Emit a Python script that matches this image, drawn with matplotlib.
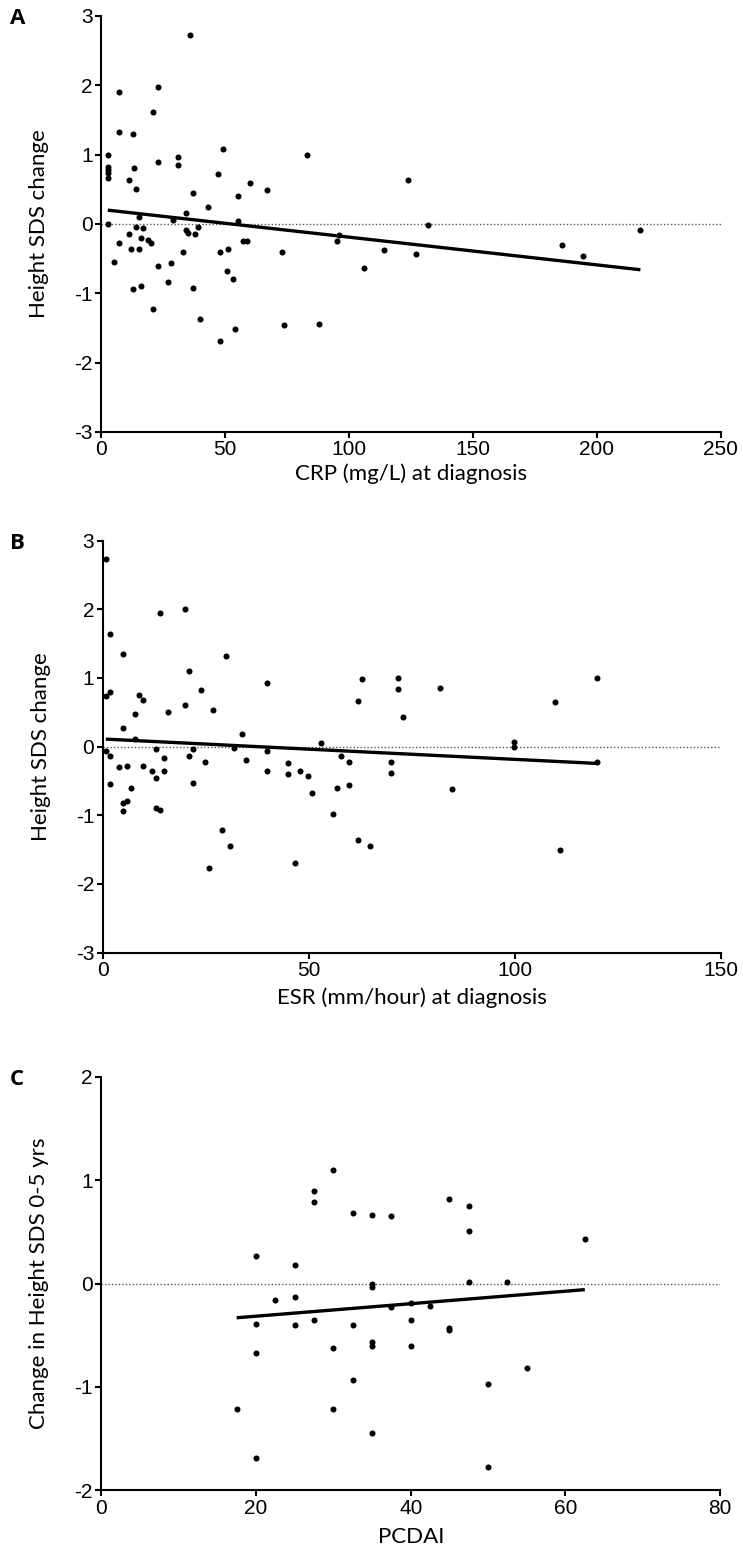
import numpy as np
import matplotlib
matplotlib.use("Agg")
import matplotlib.pyplot as plt

plt.rcParams['font.family'] = ['Liberation Sans', 'DejaVu Sans']
plt.rcParams['axes.unicode_minus'] = False
LABEL_FONT = ['Lato', 'DejaVu Sans']

# ---- Panel A: CRP at diagnosis vs height SDS change ----
crp_x = [35.9, 7.3, 23.1, 21.1, 7.3, 13.0, 2.7, 2.7, 2.7, 2.7, 2.7, 49.1, 31.0, 31.0,
         23.1, 13.2, 11.2, 47.0, 60.1, 66.9, 14.1, 37.0, 55.1, 43.0, 34.1, 15.2, 29.0,
         55.1, 2.7, 14.1, 17.1, 34.1, 35.2, 39.0, 38.0, 11.2, 16.1, 19.1, 20.2, 7.1,
         57.1, 58.7, 12.1, 15.2, 33.2, 48.0, 51.1, 73.0, 5.1, 23.1, 28.1, 50.9, 53.1,
         27.2, 13.0, 16.1, 37.1, 21.1, 40.0, 54.0, 48.1, 73.9, 82.9, 123.8, 131.9,
         217.6, 95.0, 96.1, 114.0, 126.9, 105.9, 185.8, 194.6, 87.9]
crp_y = [2.72, 1.91, 1.98, 1.61, 1.33, 1.30, 0.99, 0.82, 0.78, 0.73, 0.67, 1.08, 0.96, 0.85,
         0.90, 0.80, 0.64, 0.72, 0.59, 0.49, 0.51, 0.45, 0.41, 0.25, 0.16, 0.10, 0.06,
         0.04, 0.00, -0.04, -0.06, -0.09, -0.13, -0.05, -0.14, -0.14, -0.20, -0.23, -0.28,
         -0.28, -0.24, -0.25, -0.36, -0.36, -0.41, -0.41, -0.36, -0.40, -0.55, -0.61,
         -0.57, -0.68, -0.80, -0.83, -0.94, -0.90, -0.93, -1.22, -1.37, -1.52, -1.69,
         -1.45, 0.99, 0.63, -0.01, -0.08, -0.25, -0.16, -0.375, -0.44, -0.63, -0.30,
         -0.46, -1.44]
crp_fit = (0.21, -0.0040)   # intercept, slope

# ---- Panel B: ESR at diagnosis vs height SDS change ----
esr_x = [0.8, 1.9, 4.9, 13.9, 19.9, 29.9, 20.9, 39.9, 0.8, 1.9, 8.9, 9.9, 23.9, 7.9, 15.9,
         19.9, 26.9, 4.9, 33.9, 7.9, 0.8, 1.9, 12.9, 21.9, 31.9, 39.9, 14.9, 20.9, 24.9,
         34.9, 44.9, 3.9, 5.9, 9.9, 1.9, 11.9, 12.9, 14.9, 6.9, 4.9, 5.9, 4.9, 12.9, 13.9,
         21.9, 39.9, 44.9, 47.9, 49.8, 28.9, 30.9, 25.9, 46.8, 62.9, 71.8, 71.8, 81.9,
         119.9, 61.9, 109.9, 72.9, 52.9, 99.9, 99.9, 50.9, 57.9, 59.9, 69.9, 69.9, 119.9,
         56.9, 59.9, 84.9, 55.9, 61.9, 64.9, 110.9]
esr_y = [2.73, 1.64, 1.35, 1.94, 2.00, 1.32, 1.10, 0.93, 0.74, 0.79, 0.75, 0.68, 0.82, 0.47,
         0.505, 0.61, 0.53, 0.27, 0.18, 0.11, -0.07, -0.13, -0.04, -0.03, -0.02, -0.06,
         -0.16, -0.13, -0.22, -0.19, -0.24, -0.29, -0.28, -0.28, -0.54, -0.36, -0.45,
         -0.35, -0.60, -0.82, -0.79, -0.93, -0.90, -0.92, -0.53, -0.35, -0.40, -0.35,
         -0.43, -1.21, -1.45, -1.77, -1.69, 0.98, 1.00, 0.84, 0.86, 1.00, 0.66, 0.65,
         0.43, 0.05, 0.07, 0.00, -0.67, -0.14, -0.22, -0.23, -0.39, -0.23, -0.60, -0.56,
         -0.62, -0.975, -1.36, -1.44, -1.51]
esr_fit = (0.112, -0.00297)

# ---- Panel C: PCDAI vs change in height SDS 0-5 yrs ----
pcdai_x = [30.0, 27.5, 27.5, 32.5, 35.0, 37.5, 45.0, 20.0, 25.0, 35.0, 35.0, 22.5, 25.0,
           37.5, 42.5, 40.0, 20.0, 25.0, 27.5, 32.5, 40.0, 20.0, 30.0, 35.0, 35.0, 40.0,
           32.5, 17.5, 30.0, 35.0, 20.0, 47.5, 47.5, 62.5, 47.5, 52.5, 45.0, 45.0, 55.0,
           50.0, 50.0]
pcdai_y = [1.10, 0.90, 0.79, 0.68, 0.66, 0.65, 0.82, 0.27, 0.18, 0.00, -0.03, -0.16, -0.13,
           -0.23, -0.22, -0.19, -0.39, -0.40, -0.35, -0.40, -0.35, -0.67, -0.62, -0.56,
           -0.60, -0.60, -0.93, -1.21, -1.21, -1.45, -1.69, 0.75, 0.51, 0.43, 0.02, 0.02,
           -0.43, -0.45, -0.82, -0.97, -1.77]
pcdai_fit = (-0.436, 0.00605)

fig = plt.figure(figsize=(7.43, 15.64), dpi=100)

panels = [
    dict(rect=[0.136, 0.7238, 0.834, 0.266], x=crp_x, y=crp_y, fit=crp_fit,
         xlim=(0, 250), xticks=[0, 50, 100, 150, 200, 250], ylim=(-3, 3),
         yticks=[-3, -2, -1, 0, 1, 2, 3], xlabel='CRP (mg/L) at diagnosis',
         ylabel='Height SDS change', letter='A', lpad=3),
    dict(rect=[0.138, 0.3909, 0.832, 0.2634], x=esr_x, y=esr_y, fit=esr_fit,
         xlim=(0, 150), xticks=[0, 50, 100, 150], ylim=(-3, 3),
         yticks=[-3, -2, -1, 0, 1, 2, 3], xlabel='ESR (mm/hour) at diagnosis',
         ylabel='Height SDS change', letter='B', lpad=5),
    dict(rect=[0.1363, 0.0471, 0.833, 0.2643], x=pcdai_x, y=pcdai_y, fit=pcdai_fit,
         xlim=(0, 80), xticks=[0, 20, 40, 60, 80], ylim=(-2, 2),
         yticks=[-2, -1, 0, 1, 2], xlabel='PCDAI',
         ylabel='Change in Height SDS 0-5 yrs', letter='C', lpad=7),
]

for p in panels:
    ax = fig.add_axes(p['rect'])
    ax.axhline(0, color='#555555', lw=1.0, ls=(0, (1, 1.5)), zorder=1)
    ax.scatter(p['x'], p['y'], s=19, color='black', zorder=3, linewidths=0)
    b0, b1 = p['fit']
    xs = np.array([min(p['x']), max(p['x'])])
    ax.plot(xs, b0 + b1 * xs, color='black', lw=2.4, solid_capstyle='butt', zorder=2)
    ax.set_xlim(*p['xlim'])
    ax.set_ylim(*p['ylim'])
    ax.set_xticks(p['xticks'])
    ax.set_yticks(p['yticks'])
    for s in ['top', 'right']:
        ax.spines[s].set_visible(False)
    for s in ['left', 'bottom']:
        ax.spines[s].set_linewidth(1.5)
    ax.tick_params(direction='out', length=4, width=1.5, labelsize=15, pad=2)
    ax.set_xlabel(p['xlabel'], family=LABEL_FONT, fontsize=16, labelpad=p['lpad'])
    ax.set_ylabel(p['ylabel'], family=LABEL_FONT, fontsize=16, labelpad=18)
    x0, y0, w, h = p['rect']
    fig.text(0.013, y0 + h + 0.005, p['letter'], family=['Open Sans', 'DejaVu Sans'],
             fontsize=16, fontweight='bold', va='top', ha='left')

fig.savefig('out.png', dpi=100)
